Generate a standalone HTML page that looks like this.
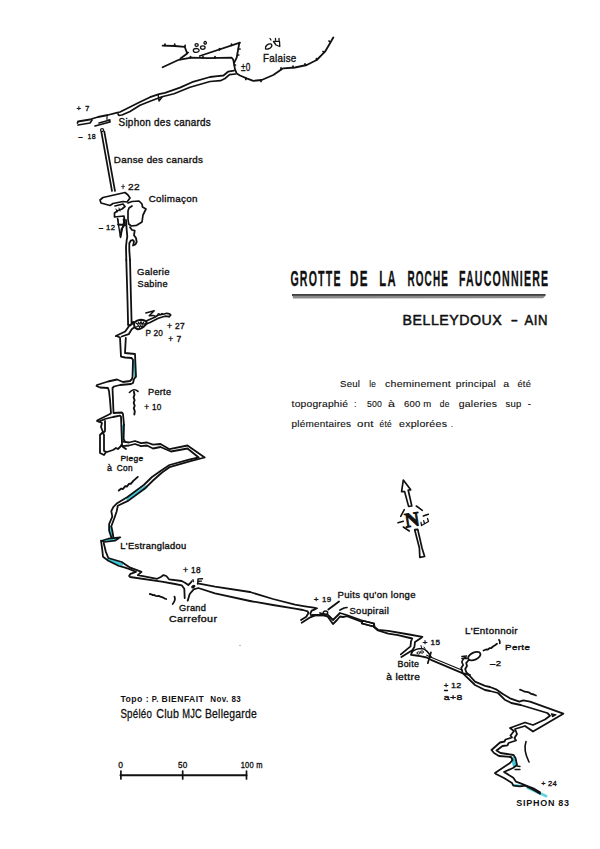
<!DOCTYPE html>
<html><head><meta charset="utf-8">
<style>
html,body{margin:0;padding:0;background:#fff;}
body{width:600px;height:849px;overflow:hidden;font-family:"Liberation Sans",sans-serif;}
svg{display:block;position:absolute;left:0;top:0;}
</style></head><body>
<svg width="600" height="849" viewBox="0 0 600 849" stroke-linejoin="round" stroke-linecap="round">
<polyline points="133.5,360.0 135.0,377.0" fill="none" stroke="#3cc8d8" stroke-width="2.2" />
<polyline points="122.5,426.0 122.5,441.0" fill="none" stroke="#3cc8d8" stroke-width="2.4" />
<polyline points="128.0,499.0 146.0,487.0" fill="none" stroke="#3cc8d8" stroke-width="3.2" />
<polyline points="110.4,527.0 112.3,537.5" fill="none" stroke="#3cc8d8" stroke-width="2.6" />
<polyline points="108.5,559.5 121.5,564.5" fill="none" stroke="#3cc8d8" stroke-width="3.2" />
<polyline points="512.8,758.5 514.5,765.5" fill="none" stroke="#3cc8d8" stroke-width="3.6" />
<polyline points="514.0,785.0 522.0,786.0" fill="none" stroke="#3cc8d8" stroke-width="2" />
<polyline points="528.0,788.0 546.0,796.0" fill="none" stroke="#3cc8d8" stroke-width="3" stroke-linecap="round" opacity="0.8"/>
<polyline points="162.6,45.6 174.7,46.0 184.7,46.8 187.2,53.5 180.5,58.5" fill="none" stroke="#111" stroke-width="1.8" />
<polyline points="162.6,67.2 178.8,59.8 191.3,57.7 208.0,58.1 231.7,57.7 233.3,59.8 235.0,69.3 236.7,73.5 240.0,75.5 246.7,78.3 253.3,80.8 261.7,80.0 273.3,75.0 281.7,69.2 283.3,68.3 295.0,67.5 306.7,65.0 316.7,60.0 325.0,51.7 330.0,43.3 333.3,37.5" fill="none" stroke="#111" stroke-width="1.8" />
<polyline points="199.7,56.0 240.0,42.7 239.2,43.5 236.7,57.7 234.2,62.7" fill="none" stroke="#111" stroke-width="1.8" />
<polyline points="165.0,45.5 165.0,44.2" fill="none" stroke="#111" stroke-width="1.7" />
<polyline points="174.7,46.0 174.7,44.0" fill="none" stroke="#111" stroke-width="1.7" />
<polyline points="184.7,46.8 185.2,45.3" fill="none" stroke="#111" stroke-width="1.7" />
<polyline points="187.0,52.5 188.2,52.5" fill="none" stroke="#111" stroke-width="1.7" />
<polyline points="190.5,57.7 190.5,56.5" fill="none" stroke="#111" stroke-width="1.7" />
<polyline points="203.0,58.0 203.0,56.7" fill="none" stroke="#111" stroke-width="1.7" />
<polyline points="215.0,58.0 215.0,56.5" fill="none" stroke="#111" stroke-width="1.7" />
<polyline points="219.5,50.0 219.5,48.5" fill="none" stroke="#111" stroke-width="1.7" />
<polyline points="231.5,45.5 231.5,44.0" fill="none" stroke="#111" stroke-width="1.7" />
<polyline points="238.5,49.0 240.0,49.0" fill="none" stroke="#111" stroke-width="1.7" />
<polyline points="237.5,55.0 238.7,55.0" fill="none" stroke="#111" stroke-width="1.7" />
<polyline points="234.3,65.0 235.5,65.0" fill="none" stroke="#111" stroke-width="1.7" />
<polyline points="245.8,78.0 245.8,79.5" fill="none" stroke="#111" stroke-width="1.7" />
<polyline points="261.0,80.0 261.0,81.5" fill="none" stroke="#111" stroke-width="1.7" />
<polyline points="281.0,69.3 281.0,67.8" fill="none" stroke="#111" stroke-width="1.7" />
<polyline points="293.0,67.5 293.0,66.0" fill="none" stroke="#111" stroke-width="1.7" />
<polyline points="305.0,65.3 305.0,63.8" fill="none" stroke="#111" stroke-width="1.7" />
<polyline points="316.5,60.0 316.5,58.5" fill="none" stroke="#111" stroke-width="1.7" />
<polyline points="324.0,52.5 323.0,51.5" fill="none" stroke="#111" stroke-width="1.7" />
<polyline points="330.0,42.0 329.0,41.0" fill="none" stroke="#111" stroke-width="1.7" />
<path d="M193.3,50.4 a2.9,1.9 0 1,0 5.8,0 a2.9,1.9 0 1,0 -5.8,0 M195,45 a1.6,1.4 0 1,0 3.2,0 a1.6,1.4 0 1,0 -3.2,0 M200.5,47.6 a2.3,1.7 0 1,0 4.6,0 a2.3,1.7 0 1,0 -4.6,0 M204,42.8 a1.2,1.4 0 1,0 2.4,0 a1.2,1.4 0 1,0 -2.4,0" fill="none" stroke="#111" stroke-width="1.3" />
<path d="M265.5,48.5 C265,46 268,43.5 271,44 C273,45.5 271,48.5 268,49 C266.5,49.3 265.6,49 265.5,48.5 Z M273.5,41.5 L279.5,41.2 L279.8,46.5 L276,45 Z M270,38.5 l1,1.5 M275.5,38.5 l0,1.5 M279,38.5 l0,1.5" fill="none" stroke="#111" stroke-width="1.3" />
<polyline points="234.0,70.7 228.0,71.7 223.5,75.5 217.5,76.2 210.0,77.0 192.0,82.2 180.0,87.6 165.0,92.8 159.0,94.2 150.0,97.2 140.0,102.0 120.0,112.0 117.3,112.7 108.0,115.0 98.0,117.0 93.0,118.5 90.0,119.5 78.0,121.5 77.5,123.0" fill="none" stroke="#111" stroke-width="1.8" />
<polyline points="235.5,74.0 229.5,74.7 225.0,78.5 220.5,80.7 210.0,81.5 190.0,87.2 174.0,93.8 162.0,96.8 150.0,101.2 140.0,105.3 130.0,111.5 122.0,115.0 119.0,115.5 118.0,114.0" fill="none" stroke="#111" stroke-width="1.7" />
<polyline points="78.0,125.0 90.0,123.0 92.0,120.0" fill="none" stroke="#111" stroke-width="1.7" />
<polyline points="99.0,123.0 110.0,120.0" fill="none" stroke="#111" stroke-width="1.7" />
<polyline points="95.0,126.0 110.0,122.0 109.0,120.0" fill="none" stroke="#111" stroke-width="1.7" />
<polyline points="107.0,116.5 107.0,119.5" fill="none" stroke="#111" stroke-width="1.2" />
<path d="M100.5,130 a1.6,1.4 0 1,0 3.2,0 a1.6,1.4 0 1,0 -3.2,0" fill="none" stroke="#111" stroke-width="1.1" />
<polyline points="158.2,95.0 159.0,101.0 162.0,97.2" fill="none" stroke="#111" stroke-width="1.4" />
<polyline points="101.3,131.5 112.0,191.0" fill="none" stroke="#111" stroke-width="1.7" />
<polyline points="104.3,131.5 115.0,191.0" fill="none" stroke="#111" stroke-width="1.7" />
<polyline points="100.0,200.0 103.0,197.5 125.0,192.5 128.0,195.0 130.0,198.0 127.0,202.0 123.0,201.5 113.0,203.5 110.0,205.5 101.0,203.0 100.0,200.0" fill="none" stroke="#111" stroke-width="1.7" />
<polyline points="115.0,206.0 123.0,204.0 125.0,206.5 122.0,209.0 118.0,210.5 114.5,213.0 114.5,217.0 124.0,216.0 125.0,225.3" fill="none" stroke="#111" stroke-width="1.7" />
<polyline points="128.0,203.0 132.0,201.5 139.0,201.0 142.0,204.0 142.5,207.0 146.0,209.0 143.0,215.0 142.0,222.0 136.7,225.3 131.3,226.0 128.7,224.0 128.0,219.0 128.0,211.0 129.0,208.0 132.0,206.0" fill="none" stroke="#111" stroke-width="1.7" />
<polyline points="126.0,220.0 126.7,230.0 127.3,236.7 126.7,240.0 126.0,246.7 126.3,260.0" fill="none" stroke="#111" stroke-width="1.8" />
<polyline points="130.0,260.0 129.3,250.0 129.3,243.3 130.7,240.7 132.7,240.0 134.0,241.3 133.3,245.0" fill="none" stroke="#111" stroke-width="1.8" />
<polyline points="130.0,227.3 132.0,230.0 134.7,230.7 134.0,235.3 136.0,238.0 136.7,242.0 135.3,244.5 133.0,245.5" fill="none" stroke="#111" stroke-width="1.8" />
<polyline points="117.5,218.5 120.5,237.5 124.5,218.5" fill="none" stroke="#111" stroke-width="1.4" />
<polyline points="118.0,224.5 124.5,225.0 121.5,229.0 120.5,236.0" fill="none" stroke="#111" stroke-width="1.8" />
<polyline points="118.0,219.0 118.7,225.3" fill="none" stroke="#111" stroke-width="1.2" />
<polyline points="123.3,219.0 124.0,225.3" fill="none" stroke="#111" stroke-width="1.2" />
<polyline points="116.0,209.0 117.0,212.0" fill="none" stroke="#111" stroke-width="1" />
<polyline points="119.0,208.0 120.0,211.0" fill="none" stroke="#111" stroke-width="1" />
<polyline points="126.3,260.0 127.5,300.0 128.1,324.8" fill="none" stroke="#111" stroke-width="1.8" />
<polyline points="130.0,260.0 131.0,300.0 131.6,322.5" fill="none" stroke="#111" stroke-width="1.8" />
<path d="M134.2,322.5 C136,320.8 138,320 140.5,319.8 C143,319.8 145.5,320.5 146.7,322.3 C146.5,324.5 145,326 143.5,327 C141.5,328.5 139.5,329.3 138,329.2 C136,328.8 134.8,327.8 134.3,326 C134,325 134,323.5 134.2,322.5 Z" fill="none" stroke="#111" stroke-width="2" />
<path d="M136,323 l2,1.5 l0.5,-2.5 l1.5,2.5 l1,-3 l1,3 l1.5,-2.5 l0.5,2.5 l1.5,-1 M136.5,327 l2,-1.5 l1,2 l1,-2 l1.5,1.5 l1,-2" fill="none" stroke="#111" stroke-width="1.1" />
<polyline points="146.7,320.8 154.2,317.5 158.3,315.0 163.3,314.2 166.7,313.3 169.5,313.8 170.8,315.0 169.2,316.7" fill="none" stroke="#111" stroke-width="1.7" />
<polyline points="145.8,324.2 150.0,322.5 158.3,318.3 165.0,316.2 169.2,316.7" fill="none" stroke="#111" stroke-width="1.7" />
<polyline points="145.8,312.9 154.2,310.8 149.2,315.8 153.3,315.4 155.8,316.7" fill="none" stroke="#111" stroke-width="1.5" />
<path d="M157.5,315 c0.5,-2 2,-2 2.5,0 M161,314.5 c0.5,-1.5 1.5,-1.5 2,0" fill="none" stroke="#111" stroke-width="1.2" />
<polyline points="128.1,324.8 130.0,325.5 133.3,322.5" fill="none" stroke="#111" stroke-width="1.7" />
<polyline points="131.6,322.5 133.5,321.8" fill="none" stroke="#111" stroke-width="1.5" />
<polyline points="133.3,322.8 129.2,325.8 127.5,328.3 125.2,331.5 115.8,336.0" fill="none" stroke="#111" stroke-width="1.8" />
<polyline points="134.2,327.5 131.7,329.2 128.7,334.2 121.7,336.5" fill="none" stroke="#111" stroke-width="1.8" />
<polyline points="116.7,336.0 120.0,337.5 121.0,356.7 125.0,357.5 131.7,358.0 133.0,360.0 132.5,376.7 132.0,379.0 130.0,381.0 123.0,382.0 117.0,379.5 108.0,381.5 97.0,385.0 96.5,386.0 100.0,387.5 108.0,388.0 109.0,391.0 110.0,400.0 111.0,413.0 110.0,414.0 98.0,420.0 97.0,421.0 99.0,421.6" fill="none" stroke="#111" stroke-width="1.8" />
<polyline points="125.8,338.0 125.0,353.0 135.0,354.0 136.0,376.7 134.0,379.0 133.0,383.0 131.0,384.0 120.0,385.0 114.0,386.5 112.5,388.0 113.0,400.0 113.5,413.0 122.0,412.5 123.0,414.0 124.0,425.0" fill="none" stroke="#111" stroke-width="1.8" />
<polyline points="99.0,421.6 105.0,419.0 113.0,417.0 120.0,415.6 121.0,416.6 122.0,444.0 121.0,446.0" fill="none" stroke="#111" stroke-width="1.8" />
<polyline points="100.0,422.0 102.0,423.0 101.0,427.0 103.0,432.0 100.0,435.0 100.0,453.0 104.0,455.0 106.0,452.0" fill="none" stroke="#111" stroke-width="1.8" />
<polyline points="105.0,421.0 105.0,431.0 103.0,433.0 104.0,435.0 104.0,451.0 107.0,452.0 113.0,450.0 116.0,448.0 118.0,449.0 120.0,447.0 122.0,445.0 123.0,447.0 126.0,449.0" fill="none" stroke="#111" stroke-width="1.8" />
<polyline points="124.0,425.0 123.6,439.0 125.0,441.7" fill="none" stroke="#111" stroke-width="1.8" />
<path d="M129.4,392.5 Q133.9,387.5 138,391.4" fill="none" stroke="#111" stroke-width="1.6" />
<path d="M133.9,391.8 l0.6,3 l-0.9,2.5 l1,3 l-0.9,2.5 l1,3 l-0.9,2.5 l1,3 l-0.5,3.2" fill="none" stroke="#111" stroke-width="1.9" />
<polyline points="123.0,441.7 129.0,442.5 135.0,441.0 141.0,443.2 147.0,442.5 153.0,444.7 160.5,444.0 169.5,449.2 187.5,445.5 204.7,457.5 190.5,461.2 169.5,467.2 162.0,472.5 153.0,480.5 144.5,488.8 128.5,500.6 117.8,505.8 116.7,511.2 114.5,517.7 111.3,526.3 112.3,530.7 113.4,537.2" fill="none" stroke="#111" stroke-width="1.8" />
<polyline points="123.0,446.2 129.0,445.5 135.0,444.0 141.0,446.2 147.0,445.5 153.0,448.5 160.5,447.0 171.0,451.5 187.5,448.5 198.7,457.5 189.0,459.7 169.5,465.0 160.5,471.0 152.0,477.0 143.8,485.0 127.5,497.0 116.7,503.6 113.4,506.8 111.3,511.2 112.3,516.6 109.1,524.2 109.1,530.7 111.3,537.2" fill="none" stroke="#111" stroke-width="1.8" />
<polygon points="101.7,540.7 108.3,538.7 120.3,537.3 115.0,540.7 104.3,542.0 101.7,540.7" fill="#3cc8d8" stroke="#111" stroke-width="1.7" stroke-linejoin="round"/>
<path d="M118.8,490.6 l2.5,-2 l1.5,0.5 l2.5,-3 l1.5,0.5 l2.5,-3 l1.5,0.3 l2.5,-3 l4.5,-4" fill="none" stroke="#111" stroke-width="1.9" />
<polyline points="101.0,540.7 102.3,550.0 103.0,556.7 108.3,560.7 119.0,566.0 124.3,567.3 129.6,569.2 136.0,571.9 130.5,573.8 129.1,576.0 130.0,577.0 161.7,581.6 175.0,584.0 181.7,585.3 184.3,588.7 184.7,598.0" fill="none" stroke="#111" stroke-width="1.8" />
<polyline points="103.7,543.0 105.7,551.3 108.3,558.0 121.7,562.0 125.7,564.7 129.6,567.3 141.5,571.9 137.8,575.1 157.1,578.8 160.8,577.0 163.5,575.1 166.3,576.0 169.0,579.3 181.7,581.0 185.0,582.7 188.3,585.0 191.0,582.3 191.7,581.3" fill="none" stroke="#111" stroke-width="1.8" />
<polyline points="197.7,583.3 215.0,586.7 250.0,592.0" fill="none" stroke="#111" stroke-width="1.8" />
<polyline points="187.7,600.7 189.7,594.0 193.7,589.3 198.3,588.0 215.0,593.3 250.0,601.0" fill="none" stroke="#111" stroke-width="1.8" />
<ellipse cx="193.3" cy="586.6" rx="2.3" ry="1.6" fill="#111" transform="rotate(-35 193.3 586.6)"/>
<path d="M202.5,578.7 L198,578.9 L197.7,584 M198,581.3 L201.5,581.1 M193,579.8 l0.4,1.8" fill="none" stroke="#111" stroke-width="1.4" />
<path d="M149.8,594 l1.5,0.3 l1.5,0.8 l1.5,-0.2 l1.5,1 l1.5,0.2 l1.5,-0.3 l1.5,0.9 l1.5,0.5 l1.5,0.5 l1.5,0.9 l1.5,0.4 M174.5,596.7 q1.5,3.5 -1.8,7.3" fill="none" stroke="#111" stroke-width="1.8" />
<polyline points="250.0,592.0 273.0,599.0 295.0,604.7 305.0,606.3 313.7,607.7 317.0,608.3 315.0,609.3 311.7,610.7 310.3,613.3 311.0,615.3" fill="none" stroke="#111" stroke-width="1.8" />
<polyline points="250.0,601.0 273.0,605.0 295.0,608.7 303.0,610.0 307.7,611.3 308.3,613.3 306.3,616.7 301.0,620.0" fill="none" stroke="#111" stroke-width="1.8" />
<polyline points="320.0,613.0 328.0,615.0 333.0,620.0 338.0,615.0 340.0,613.0 346.7,615.0 362.0,620.5 374.0,623.5 374.5,627.0 378.0,629.8 388.3,630.8 409.3,634.5 422.4,636.8 420.7,638.2 415.0,641.9 414.4,647.0 412.7,649.8 411.0,654.9 416.1,655.5 420.0,656.2 426.7,657.5 431.0,659.8 462.4,673.2 470.0,675.0" fill="none" stroke="#111" stroke-width="1.8" />
<polyline points="301.7,622.7 310.3,617.3 315.0,615.3 323.0,615.3 326.3,616.0 328.0,617.0 333.0,624.0 337.0,620.0 340.0,616.5 343.0,617.0 347.0,616.2 362.0,622.0 362.0,623.5 373.5,626.5 378.0,630.5 388.3,633.6 398.0,635.1 412.2,638.5 411.0,641.3 410.5,646.4 400.8,654.4" fill="none" stroke="#111" stroke-width="1.8" />
<polyline points="412.7,650.0 401.4,657.0" fill="none" stroke="#111" stroke-width="1.8" />
<polygon points="362.0,620.5 374.0,623.5 373.5,626.5 362.0,623.5" fill="none" stroke="#111" stroke-width="1.7" />
<rect x="311.5" y="614" width="11.5" height="2.2" fill="#111"/>
<ellipse cx="325.5" cy="612.8" rx="2.2" ry="1.8" fill="none" stroke="#111" stroke-width="1.5"/>
<polyline points="328.3,609.5 339.0,601.5" fill="none" stroke="#111" stroke-width="1.9" />
<polyline points="340.0,610.0 344.0,608.0 347.0,607.5" fill="none" stroke="#111" stroke-width="1.7" />
<path d="M412,652 C414,650 418,648.5 422,648.5 C425,649 428,651 431,657" fill="none" stroke="#111" stroke-width="1.7" />
<path d="M417,653 a1.5,1.2 0 1,0 3,0 a1.5,1.2 0 1,0 -3,0 M420.5,652 a1.5,1.2 0 1,0 3,0 a1.5,1.2 0 1,0 -3,0 M421,645.5 l0.5,2 M424,647 l1,1.5" fill="none" stroke="#111" stroke-width="1.0" />
<polyline points="431.0,652.3 427.8,663.2" fill="none" stroke="#111" stroke-width="1.7" />
<polyline points="426.7,655.2 431.0,657.2 462.4,670.3" fill="none" stroke="#111" stroke-width="1.2" />
<ellipse cx="474.3" cy="656.5" rx="6.6" ry="3.6" fill="none" stroke="#111" stroke-width="1.8" transform="rotate(-25 473.5 656.3)"/>
<polyline points="462.0,656.5 466.5,656.0" fill="none" stroke="#111" stroke-width="1.7" />
<polyline points="462.0,658.5 467.0,658.3" fill="none" stroke="#111" stroke-width="1.7" />
<polyline points="465.7,657.5 463.5,658.5 461.8,662.0 463.2,665.0 461.2,668.0 462.4,671.8" fill="none" stroke="#111" stroke-width="1.7" />
<polyline points="468.7,660.0 466.2,663.0 467.0,666.0 465.2,669.0 466.2,672.0 475.0,681.7 485.0,685.8 490.0,687.0 496.7,689.7 503.3,694.3 510.0,698.3 519.3,701.7 523.3,700.3 530.0,701.7 563.3,713.7 545.0,724.5 533.0,731.5 525.0,726.0 515.0,729.0 517.0,734.0 514.5,738.0 516.0,740.5 508.5,743.0 507.5,745.3 502.5,746.0 496.5,750.5 500.5,753.0 507.0,754.0 513.5,755.0 515.5,758.0 517.0,765.0 513.0,768.0 504.0,772.0 513.3,777.7 516.0,781.7 521.3,783.7 528.0,786.3 533.3,788.3 540.0,792.3" fill="none" stroke="#111" stroke-width="1.8" />
<polyline points="462.4,672.9 475.0,685.0 485.0,690.0 490.0,691.0 498.0,693.0 504.7,699.7 511.3,703.0 520.7,705.0 547.3,713.0 550.0,715.7 545.0,719.5 533.0,725.0 525.0,722.5 510.0,728.0 514.0,731.0 510.5,735.5 512.0,737.5 505.5,739.5 504.5,741.5 500.0,742.5 491.5,750.0 494.0,753.0 499.0,756.0 511.0,757.0 512.5,760.0 510.0,763.0 495.0,773.0 496.0,774.0 504.0,778.0 512.0,783.0 513.3,785.7 520.0,786.3 525.3,785.7 533.3,789.7 540.0,793.7" fill="none" stroke="#111" stroke-width="1.8" />
<path d="M483.5,650.5 l2.5,-1 l1.5,0.2 l2,-1.5 l1.5,0 l2,-1.7 l2,-1.2 l2,-1.5 M499,639.8 q1.5,1.5 0.8,3.5" fill="none" stroke="#111" stroke-width="1.8" />
<path d="M551.5,713.8 l4.5,1 l-3.5,1.8 z" fill="#111" stroke="#111" stroke-width="1.2" />
<polyline points="517.0,766.0 520.0,766.5" fill="none" stroke="#111" stroke-width="1.4" />
<polyline points="515.0,769.5 520.0,769.5" fill="none" stroke="#111" stroke-width="1.4" />
<path d="M526,741.5 Q523,750 529,762" fill="none" stroke="#111" stroke-width="1.6" />
<path d="M520,689.7 l2.3,0.8 l2.4,1.2 l2,0.2 l2,0.4 l2.6,1.6 l2.5,0.6 l2.2,1" fill="none" stroke="#111" stroke-width="1.8" />
<circle cx="240" cy="645.3" r="0.6" fill="#777"/>
<path d="M403.3,480 L410.7,489.8 L408.2,490 L411.8,506 L408.6,506.4 L404.6,491.6 L401.6,491.6 Z" fill="none" stroke="#111" stroke-width="1.7" />
<path d="M414.7,529.7 L417.7,529.3 L422,548 L424.6,556.5 L419.8,557.3 L419.4,548 Z" fill="none" stroke="#111" stroke-width="1.7" />
<polyline points="416.3,506.0 422.3,510.3" fill="none" stroke="#111" stroke-width="1.6" />
<polyline points="423.3,516.0 428.3,514.3" fill="none" stroke="#111" stroke-width="1.6" />
<polyline points="398.0,522.7 403.3,521.3" fill="none" stroke="#111" stroke-width="1.6" />
<polyline points="400.7,516.3 404.3,509.7" fill="none" stroke="#111" stroke-width="1.6" />
<polyline points="403.3,527.0 409.3,531.0" fill="none" stroke="#111" stroke-width="1.6" />
<text x="0" y="0" font-size="20.5" font-weight="bold" font-family="Liberation Serif" text-anchor="middle" fill="#111" stroke="#111" stroke-width="0.9" transform="translate(413,526.3) rotate(-9)">N</text>
<path d="M421.5,525.5 L428.5,521.5 M421.5,525.5 l-0.5,-3 M424.5,523.8 l-0.8,-3.2 M428.5,521.5 l-1,-3" fill="none" stroke="#111" stroke-width="1.3" />
<polyline points="120.5,775.3 246.5,775.3" fill="none" stroke="#111" stroke-width="2" />
<polyline points="120.9,771.0 120.9,779.0" fill="none" stroke="#111" stroke-width="1.7" />
<polyline points="182.7,771.0 182.7,779.0" fill="none" stroke="#111" stroke-width="1.7" />
<polyline points="246.5,771.0 246.5,779.0" fill="none" stroke="#111" stroke-width="1.7" />
<text x="263" y="61.5" font-size="10.17" font-weight="normal" font-family="Liberation Sans" letter-spacing="0.3" textLength="33.6" lengthAdjust="spacingAndGlyphs" fill="#111" stroke="#111" stroke-width="0.35">Falaise</text>
<text x="241" y="71.4" font-size="10.17" font-weight="normal" font-family="Liberation Sans" letter-spacing="0.3" textLength="9.5" lengthAdjust="spacingAndGlyphs" fill="#111" stroke="#111" stroke-width="0.35">±0</text>
<text x="76.5" y="110.5" font-size="7.99" font-weight="normal" font-family="Liberation Sans" letter-spacing="0.3" textLength="4.8" lengthAdjust="spacingAndGlyphs" fill="#111" stroke="#111" stroke-width="0.35">+</text>
<text x="85" y="110.5" font-size="7.99" font-weight="normal" font-family="Liberation Sans" letter-spacing="0.3" textLength="4.8" lengthAdjust="spacingAndGlyphs" fill="#111" stroke="#111" stroke-width="0.35">7</text>
<text x="118.5" y="126.3" font-size="10.17" font-weight="normal" font-family="Liberation Sans" letter-spacing="0.3" textLength="92.6" lengthAdjust="spacingAndGlyphs" fill="#111" stroke="#111" stroke-width="0.35">Siphon des canards</text>
<text x="78.5" y="139" font-size="7.99" font-weight="normal" font-family="Liberation Sans" letter-spacing="0.3" textLength="4.3" lengthAdjust="spacingAndGlyphs" fill="#111" stroke="#111" stroke-width="0.35">–</text>
<text x="87.5" y="139" font-size="7.99" font-weight="normal" font-family="Liberation Sans" letter-spacing="0.3" textLength="8.3" lengthAdjust="spacingAndGlyphs" fill="#111" stroke="#111" stroke-width="0.35">18</text>
<text x="113.8" y="163.3" font-size="9.59" font-weight="normal" font-family="Liberation Sans" letter-spacing="0.3" textLength="89.5" lengthAdjust="spacingAndGlyphs" fill="#111" stroke="#111" stroke-width="0.35">Danse des canards</text>
<text x="121" y="190" font-size="8.72" font-weight="normal" font-family="Liberation Sans" letter-spacing="0.3" textLength="4.3" lengthAdjust="spacingAndGlyphs" fill="#111" stroke="#111" stroke-width="0.35">+</text>
<text x="128" y="190" font-size="8.72" font-weight="normal" font-family="Liberation Sans" letter-spacing="0.3" textLength="12.0" lengthAdjust="spacingAndGlyphs" fill="#111" stroke="#111" stroke-width="0.35">22</text>
<text x="148.7" y="202" font-size="9.88" font-weight="normal" font-family="Liberation Sans" letter-spacing="0.3" textLength="49.1" lengthAdjust="spacingAndGlyphs" fill="#111" stroke="#111" stroke-width="0.35">Colimaçon</text>
<text x="99" y="230" font-size="7.27" font-weight="normal" font-family="Liberation Sans" letter-spacing="0.3" textLength="4.3" lengthAdjust="spacingAndGlyphs" fill="#111" stroke="#111" stroke-width="0.35">–</text>
<text x="106" y="230" font-size="7.27" font-weight="normal" font-family="Liberation Sans" letter-spacing="0.3" textLength="9.3" lengthAdjust="spacingAndGlyphs" fill="#111" stroke="#111" stroke-width="0.35">12</text>
<text x="137" y="275" font-size="9.45" font-weight="normal" font-family="Liberation Sans" letter-spacing="0.3" textLength="32.8" lengthAdjust="spacingAndGlyphs" fill="#111" stroke="#111" stroke-width="0.35">Galerie</text>
<text x="137.5" y="286.5" font-size="9.16" font-weight="normal" font-family="Liberation Sans" letter-spacing="0.3" textLength="30.3" lengthAdjust="spacingAndGlyphs" fill="#111" stroke="#111" stroke-width="0.35">Sabine</text>
<text x="167" y="328.75" font-size="8.58" font-weight="normal" font-family="Liberation Sans" letter-spacing="0.3" textLength="5.3" lengthAdjust="spacingAndGlyphs" fill="#111" stroke="#111" stroke-width="0.35">+</text>
<text x="175" y="328.75" font-size="8.58" font-weight="normal" font-family="Liberation Sans" letter-spacing="0.3" textLength="9.9" lengthAdjust="spacingAndGlyphs" fill="#111" stroke="#111" stroke-width="0.35">27</text>
<text x="145.4" y="336.25" font-size="9.08" font-weight="normal" font-family="Liberation Sans" letter-spacing="0.3" textLength="17.8" lengthAdjust="spacingAndGlyphs" fill="#111" stroke="#111" stroke-width="0.35">P 20</text>
<text x="168.3" y="342" font-size="8.43" font-weight="normal" font-family="Liberation Sans" letter-spacing="0.3" textLength="5.0" lengthAdjust="spacingAndGlyphs" fill="#111" stroke="#111" stroke-width="0.35">+</text>
<text x="176.5" y="342" font-size="8.43" font-weight="normal" font-family="Liberation Sans" letter-spacing="0.3" textLength="5.0" lengthAdjust="spacingAndGlyphs" fill="#111" stroke="#111" stroke-width="0.35">7</text>
<text x="148" y="394.7" font-size="8.72" font-weight="normal" font-family="Liberation Sans" letter-spacing="0.3" textLength="23.3" lengthAdjust="spacingAndGlyphs" fill="#111" stroke="#111" stroke-width="0.35">Perte</text>
<text x="144.3" y="409.7" font-size="9.30" font-weight="normal" font-family="Liberation Sans" letter-spacing="0.3" textLength="5.0" lengthAdjust="spacingAndGlyphs" fill="#111" stroke="#111" stroke-width="0.35">+</text>
<text x="152" y="409.7" font-size="9.30" font-weight="normal" font-family="Liberation Sans" letter-spacing="0.3" textLength="9.6" lengthAdjust="spacingAndGlyphs" fill="#111" stroke="#111" stroke-width="0.35">10</text>
<text x="120.4" y="461.25" font-size="7.99" font-weight="normal" font-family="Liberation Sans" letter-spacing="0.3" textLength="23.2" lengthAdjust="spacingAndGlyphs" fill="#111" stroke="#111" stroke-width="0.35">Piege</text>
<text x="107" y="471.25" font-size="8.58" font-weight="normal" font-family="Liberation Sans" letter-spacing="0.3" textLength="5.3" lengthAdjust="spacingAndGlyphs" fill="#111" stroke="#111" stroke-width="0.35">à</text>
<text x="116.7" y="471.25" font-size="8.58" font-weight="normal" font-family="Liberation Sans" letter-spacing="0.3" textLength="16.1" lengthAdjust="spacingAndGlyphs" fill="#111" stroke="#111" stroke-width="0.35">Con</text>
<text x="120.3" y="549.3" font-size="8.72" font-weight="normal" font-family="Liberation Sans" letter-spacing="0.3" textLength="66.3" lengthAdjust="spacingAndGlyphs" fill="#111" stroke="#111" stroke-width="0.35">L'Estrangladou</text>
<text x="183" y="572.5" font-size="8.72" font-weight="normal" font-family="Liberation Sans" letter-spacing="0.3" textLength="5.3" lengthAdjust="spacingAndGlyphs" fill="#111" stroke="#111" stroke-width="0.35">+</text>
<text x="191" y="572.5" font-size="8.72" font-weight="normal" font-family="Liberation Sans" letter-spacing="0.3" textLength="9.8" lengthAdjust="spacingAndGlyphs" fill="#111" stroke="#111" stroke-width="0.35">18</text>
<text x="179" y="610.5" font-size="8.72" font-weight="normal" font-family="Liberation Sans" letter-spacing="0.3" textLength="27.3" lengthAdjust="spacingAndGlyphs" fill="#111" stroke="#111" stroke-width="0.35">Grand</text>
<text x="169" y="621.5" font-size="8.72" font-weight="normal" font-family="Liberation Sans" letter-spacing="0.3" textLength="48.3" lengthAdjust="spacingAndGlyphs" fill="#111" stroke="#111" stroke-width="0.35">Carrefour</text>
<text x="313.7" y="602.4" font-size="7.99" font-weight="normal" font-family="Liberation Sans" letter-spacing="0.3" textLength="5.1" lengthAdjust="spacingAndGlyphs" fill="#111" stroke="#111" stroke-width="0.35">+</text>
<text x="322" y="602.4" font-size="7.99" font-weight="normal" font-family="Liberation Sans" letter-spacing="0.3" textLength="9.4" lengthAdjust="spacingAndGlyphs" fill="#111" stroke="#111" stroke-width="0.35">19</text>
<text x="337.5" y="597.8" font-size="9.45" font-weight="normal" font-family="Liberation Sans" letter-spacing="0.3" textLength="78.3" lengthAdjust="spacingAndGlyphs" fill="#111" stroke="#111" stroke-width="0.35">Puits qu'on longe</text>
<text x="349.4" y="614.2" font-size="9.30" font-weight="normal" font-family="Liberation Sans" letter-spacing="0.3" textLength="39.8" lengthAdjust="spacingAndGlyphs" fill="#111" stroke="#111" stroke-width="0.35">Soupirail</text>
<text x="422.5" y="645" font-size="7.27" font-weight="normal" font-family="Liberation Sans" letter-spacing="0.3" textLength="5.3" lengthAdjust="spacingAndGlyphs" fill="#111" stroke="#111" stroke-width="0.35">+</text>
<text x="430.5" y="645" font-size="7.27" font-weight="normal" font-family="Liberation Sans" letter-spacing="0.3" textLength="9.8" lengthAdjust="spacingAndGlyphs" fill="#111" stroke="#111" stroke-width="0.35">15</text>
<text x="397.5" y="667" font-size="8.43" font-weight="normal" font-family="Liberation Sans" letter-spacing="0.3" textLength="21.6" lengthAdjust="spacingAndGlyphs" fill="#111" stroke="#111" stroke-width="0.35">Boite</text>
<text x="386.25" y="679.5" font-size="8.43" font-weight="normal" font-family="Liberation Sans" letter-spacing="0.3" textLength="34.0" lengthAdjust="spacingAndGlyphs" fill="#111" stroke="#111" stroke-width="0.35">à lettre</text>
<text x="465" y="633.75" font-size="9.16" font-weight="normal" font-family="Liberation Sans" letter-spacing="0.3" textLength="52.8" lengthAdjust="spacingAndGlyphs" fill="#111" stroke="#111" stroke-width="0.35">L'Entonnoir</text>
<text x="505" y="650" font-size="7.99" font-weight="normal" font-family="Liberation Sans" letter-spacing="0.3" textLength="25.3" lengthAdjust="spacingAndGlyphs" fill="#111" stroke="#111" stroke-width="0.35">Perte</text>
<text x="490" y="666" font-size="7.99" font-weight="normal" font-family="Liberation Sans" letter-spacing="0.3" textLength="11.3" lengthAdjust="spacingAndGlyphs" fill="#111" stroke="#111" stroke-width="0.35">–2</text>
<text x="443.75" y="687.5" font-size="7.99" font-weight="normal" font-family="Liberation Sans" letter-spacing="0.3" textLength="5.0" lengthAdjust="spacingAndGlyphs" fill="#111" stroke="#111" stroke-width="0.35">+</text>
<text x="451" y="687.5" font-size="7.99" font-weight="normal" font-family="Liberation Sans" letter-spacing="0.3" textLength="10.6" lengthAdjust="spacingAndGlyphs" fill="#111" stroke="#111" stroke-width="0.35">12</text>
<text x="443.75" y="700" font-size="7.99" font-weight="normal" font-family="Liberation Sans" letter-spacing="0.3" textLength="19.1" lengthAdjust="spacingAndGlyphs" fill="#111" stroke="#111" stroke-width="0.35">a+8</text>
<polyline points="444.5,690.5 447.5,690.5" fill="none" stroke="#111" stroke-width="1.3" />
<text x="541.3" y="785.7" font-size="7.70" font-weight="normal" font-family="Liberation Sans" letter-spacing="0.3" textLength="4.5" lengthAdjust="spacingAndGlyphs" fill="#111" stroke="#111" stroke-width="0.35">+</text>
<text x="548" y="785.7" font-size="7.70" font-weight="normal" font-family="Liberation Sans" letter-spacing="0.3" textLength="9.0" lengthAdjust="spacingAndGlyphs" fill="#111" stroke="#111" stroke-width="0.35">24</text>
<text x="516.3" y="806.3" font-size="9.74" font-weight="bold" font-family="Liberation Sans" letter-spacing="0.8" textLength="53.5" lengthAdjust="spacingAndGlyphs" fill="#111" >SIPHON 83</text>
<text x="290.4" y="285.8" font-size="22.09" font-weight="bold" font-family="Liberation Sans" letter-spacing="2.5" textLength="51.3" lengthAdjust="spacingAndGlyphs" fill="#111" stroke="#111" stroke-width="0.3">GROTTE</text>
<text x="350" y="285.8" font-size="22.09" font-weight="bold" font-family="Liberation Sans" letter-spacing="2.5" textLength="18.8" lengthAdjust="spacingAndGlyphs" fill="#111" stroke="#111" stroke-width="0.3">DE</text>
<text x="379.3" y="285.8" font-size="22.09" font-weight="bold" font-family="Liberation Sans" letter-spacing="2.5" textLength="17.6" lengthAdjust="spacingAndGlyphs" fill="#111" stroke="#111" stroke-width="0.3">LA</text>
<text x="407.4" y="285.8" font-size="22.09" font-weight="bold" font-family="Liberation Sans" letter-spacing="2.5" textLength="41.6" lengthAdjust="spacingAndGlyphs" fill="#111" stroke="#111" stroke-width="0.3">ROCHE</text>
<text x="458.9" y="285.8" font-size="22.09" font-weight="bold" font-family="Liberation Sans" letter-spacing="2.5" textLength="90.4" lengthAdjust="spacingAndGlyphs" fill="#111" stroke="#111" stroke-width="0.3">FAUCONNIERE</text>
<rect x="292" y="294.2" width="253.5" height="1.6" fill="#111"/>
<path d="M292.5,295.8 L545.5,295.8 L543,298.2 L293,298.4 Z" fill="#8a8a8a"/>
<text x="402.6" y="325.2" font-size="13.95" font-weight="normal" font-family="Liberation Sans" letter-spacing="0.5" textLength="99.7" lengthAdjust="spacingAndGlyphs" fill="#111" stroke="#111" stroke-width="0.5">BELLEYDOUX</text>
<text x="510.7" y="325.2" font-size="13.95" font-weight="normal" font-family="Liberation Sans" letter-spacing="0.5" textLength="8.0" lengthAdjust="spacingAndGlyphs" fill="#111" stroke="#111" stroke-width="0.5">-</text>
<text x="524.6" y="325.2" font-size="13.95" font-weight="normal" font-family="Liberation Sans" letter-spacing="0.5" textLength="23.3" lengthAdjust="spacingAndGlyphs" fill="#111" stroke="#111" stroke-width="0.5">AIN</text>
<text x="340" y="387.3" font-size="9.16" font-weight="normal" font-family="Liberation Sans" letter-spacing="0.2" textLength="20.2" lengthAdjust="spacingAndGlyphs" fill="#111" stroke="#111" stroke-width="0.12">Seul</text>
<text x="369.2" y="387.3" font-size="9.16" font-weight="normal" font-family="Liberation Sans" letter-spacing="0.2" textLength="6.8" lengthAdjust="spacingAndGlyphs" fill="#111" stroke="#111" stroke-width="0.12">le</text>
<text x="385" y="387.3" font-size="9.16" font-weight="normal" font-family="Liberation Sans" letter-spacing="0.2" textLength="66.0" lengthAdjust="spacingAndGlyphs" fill="#111" stroke="#111" stroke-width="0.12">cheminement</text>
<text x="455.8" y="387.3" font-size="9.16" font-weight="normal" font-family="Liberation Sans" letter-spacing="0.2" textLength="40.2" lengthAdjust="spacingAndGlyphs" fill="#111" stroke="#111" stroke-width="0.12">principal</text>
<text x="503.3" y="387.3" font-size="9.16" font-weight="normal" font-family="Liberation Sans" letter-spacing="0.2" textLength="6.1" lengthAdjust="spacingAndGlyphs" fill="#111" stroke="#111" stroke-width="0.12">a</text>
<text x="517.5" y="387.3" font-size="9.16" font-weight="normal" font-family="Liberation Sans" letter-spacing="0.2" textLength="13.5" lengthAdjust="spacingAndGlyphs" fill="#111" stroke="#111" stroke-width="0.12">été</text>
<text x="291.6" y="407.2" font-size="9.16" font-weight="normal" font-family="Liberation Sans" letter-spacing="0.2" textLength="56.6" lengthAdjust="spacingAndGlyphs" fill="#111" stroke="#111" stroke-width="0.12">topographié</text>
<text x="354" y="407.2" font-size="9.16" font-weight="normal" font-family="Liberation Sans" letter-spacing="0.2" textLength="2.7" lengthAdjust="spacingAndGlyphs" fill="#111" stroke="#111" stroke-width="0.12">:</text>
<text x="367" y="407.2" font-size="9.16" font-weight="normal" font-family="Liberation Sans" letter-spacing="0.2" textLength="15.2" lengthAdjust="spacingAndGlyphs" fill="#111" stroke="#111" stroke-width="0.12">500</text>
<text x="388" y="407.2" font-size="9.16" font-weight="normal" font-family="Liberation Sans" letter-spacing="0.2" textLength="7.2" lengthAdjust="spacingAndGlyphs" fill="#111" stroke="#111" stroke-width="0.12">à</text>
<text x="404" y="407.2" font-size="9.16" font-weight="normal" font-family="Liberation Sans" letter-spacing="0.2" textLength="27.5" lengthAdjust="spacingAndGlyphs" fill="#111" stroke="#111" stroke-width="0.12">600 m</text>
<text x="439.8" y="407.2" font-size="9.16" font-weight="normal" font-family="Liberation Sans" letter-spacing="0.2" textLength="9.7" lengthAdjust="spacingAndGlyphs" fill="#111" stroke="#111" stroke-width="0.12">de</text>
<text x="458.8" y="407.2" font-size="9.16" font-weight="normal" font-family="Liberation Sans" letter-spacing="0.2" textLength="38.4" lengthAdjust="spacingAndGlyphs" fill="#111" stroke="#111" stroke-width="0.12">galeries</text>
<text x="505.5" y="407.2" font-size="9.16" font-weight="normal" font-family="Liberation Sans" letter-spacing="0.2" textLength="16.0" lengthAdjust="spacingAndGlyphs" fill="#111" stroke="#111" stroke-width="0.12">sup</text>
<text x="527.7" y="407.2" font-size="9.16" font-weight="normal" font-family="Liberation Sans" letter-spacing="0.2" textLength="3.4" lengthAdjust="spacingAndGlyphs" fill="#111" stroke="#111" stroke-width="0.12">-</text>
<text x="291.6" y="427.3" font-size="9.16" font-weight="normal" font-family="Liberation Sans" letter-spacing="0.2" textLength="59.6" lengthAdjust="spacingAndGlyphs" fill="#111" stroke="#111" stroke-width="0.12">plémentaires</text>
<text x="357" y="427.3" font-size="9.16" font-weight="normal" font-family="Liberation Sans" letter-spacing="0.2" textLength="16.8" lengthAdjust="spacingAndGlyphs" fill="#111" stroke="#111" stroke-width="0.12">ont</text>
<text x="379.6" y="427.3" font-size="9.16" font-weight="normal" font-family="Liberation Sans" letter-spacing="0.2" textLength="12.2" lengthAdjust="spacingAndGlyphs" fill="#111" stroke="#111" stroke-width="0.12">été</text>
<text x="399" y="427.3" font-size="9.16" font-weight="normal" font-family="Liberation Sans" letter-spacing="0.2" textLength="48.2" lengthAdjust="spacingAndGlyphs" fill="#111" stroke="#111" stroke-width="0.12">explorées</text>
<text x="451" y="427.3" font-size="9.16" font-weight="normal" font-family="Liberation Sans" letter-spacing="0.2" textLength="2.2" lengthAdjust="spacingAndGlyphs" fill="#111" stroke="#111" stroke-width="0.12">.</text>
<text x="120.4" y="701.9" font-size="9.45" font-weight="bold" font-family="Liberation Sans" letter-spacing="0.5" textLength="28.7" lengthAdjust="spacingAndGlyphs" fill="#111" >Topo :</text>
<text x="151.8" y="701.9" font-size="9.45" font-weight="bold" font-family="Liberation Sans" letter-spacing="0.5" textLength="7.0" lengthAdjust="spacingAndGlyphs" fill="#111" >P.</text>
<text x="161.6" y="701.9" font-size="9.45" font-weight="bold" font-family="Liberation Sans" letter-spacing="0.5" textLength="42.7" lengthAdjust="spacingAndGlyphs" fill="#111" >BIENFAIT</text>
<text x="210.3" y="701.9" font-size="9.45" font-weight="bold" font-family="Liberation Sans" letter-spacing="0.5" textLength="30.9" lengthAdjust="spacingAndGlyphs" fill="#111" >Nov. 83</text>
<text x="120.4" y="718.2" font-size="12.65" font-weight="normal" font-family="Liberation Sans" letter-spacing="0.3" textLength="31.7" lengthAdjust="spacingAndGlyphs" fill="#111" stroke="#111" stroke-width="0.3">Spéléo</text>
<text x="156.2" y="718.2" font-size="12.65" font-weight="normal" font-family="Liberation Sans" letter-spacing="0.3" textLength="23.0" lengthAdjust="spacingAndGlyphs" fill="#111" stroke="#111" stroke-width="0.3">Club</text>
<text x="182.2" y="718.2" font-size="12.65" font-weight="normal" font-family="Liberation Sans" letter-spacing="0.3" textLength="19.8" lengthAdjust="spacingAndGlyphs" fill="#111" stroke="#111" stroke-width="0.3">MJC</text>
<text x="204.9" y="718.2" font-size="12.65" font-weight="normal" font-family="Liberation Sans" letter-spacing="0.3" textLength="52.1" lengthAdjust="spacingAndGlyphs" fill="#111" stroke="#111" stroke-width="0.3">Bellegarde</text>
<text x="118.3" y="768.3" font-size="9.16" font-weight="normal" font-family="Liberation Sans" letter-spacing="0.3" textLength="5.0" lengthAdjust="spacingAndGlyphs" fill="#111" stroke="#111" stroke-width="0.35">0</text>
<text x="178" y="768.3" font-size="9.16" font-weight="normal" font-family="Liberation Sans" letter-spacing="0.3" textLength="9.6" lengthAdjust="spacingAndGlyphs" fill="#111" stroke="#111" stroke-width="0.35">50</text>
<text x="240.7" y="768.3" font-size="9.16" font-weight="normal" font-family="Liberation Sans" letter-spacing="0.3" textLength="22.1" lengthAdjust="spacingAndGlyphs" fill="#111" stroke="#111" stroke-width="0.35">100 m</text>
</svg>
</body></html>
